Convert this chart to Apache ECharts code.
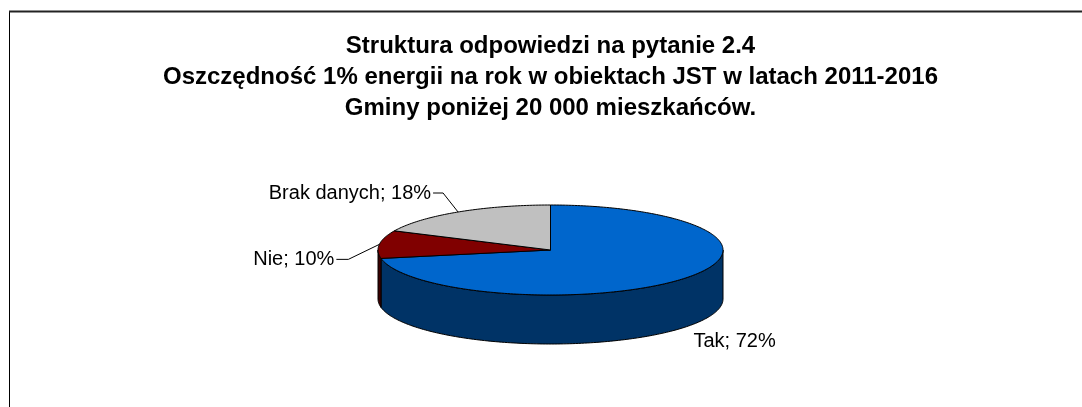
<!DOCTYPE html>
<html>
<head>
<meta charset="utf-8">
<script src="https://cdn.jsdelivr.net/npm/echarts@6/dist/echarts.min.js"></script>
<style>
html,body{margin:0;padding:0;background:#fff;}
#chart{width:1082px;height:407px;}
</style>
</head>
<body>
<div id="chart"></div>
<script>
// ---- data ----
const titleLines = [
  'Struktura odpowiedzi na pytanie 2.4',
  'Oszczędność 1% energii na rok w obiektach JST w latach 2011-2016',
  'Gminy poniżej 20 000 mieszkańców.'
];
const categories = ['Tak', 'Nie', 'Brak danych'];
const values = [72, 10, 18];

// ---- styles / layout ----
const topColors = ['#0066CC', '#800000', '#C0C0C0'];
const sideColors = ['#003366', '#3a0000', '#808080'];
const CX = 550.5, CY = 250, RX = 172.5, RY = 45, DEPTH = 49;
const FONT = '"Liberation Sans", Arial, sans-serif';
// label placement relative to slice mid-point anchor
const labelLayout = [
  {leader: false, onBottom: true, dx: 10, dy: 14, align: 'left'},
  {leader: true, elbow: [-31, 15], tail: -12, align: 'right'},
  {leader: true, elbow: [-15, -19], tail: -10, align: 'right'}
];

const total = values.reduce((a, b) => a + b, 0);
const starts = [];
let acc = 0;
values.forEach(v => { starts.push(acc / total * 360); acc += v; });

function pt(deg, dy) {
  const r = deg * Math.PI / 180;
  return [CX + RX * Math.sin(r), CY - RY * Math.cos(r) + (dy || 0)];
}
function arc(a0, a1, dy) {
  const pts = [];
  const n = Math.max(2, Math.ceil(Math.abs(a1 - a0) / 1));
  for (let k = 0; k <= n; k++) pts.push(pt(a0 + (a1 - a0) * k / n, dy));
  return pts;
}

const data = categories.map((c, i) => ({name: c, value: values[i]}));

function renderSide(params, api) {
  const i = params.dataIndex;
  const a0 = starts[i], a1 = starts[i] + api.value(0) / total * 360;
  const lo = Math.max(a0, 90), hi = Math.min(a1, 270);
  if (lo >= hi) return null;
  const pts = arc(lo, hi, 0).concat(arc(hi, lo, DEPTH));
  return {
    type: 'polygon',
    shape: {points: pts},
    style: {fill: sideColors[i], stroke: '#000', lineWidth: 1}
  };
}

function renderTop(params, api) {
  const i = params.dataIndex;
  const v = api.value(0);
  const a0 = starts[i], a1 = starts[i] + v / total * 360;
  const pts = [[CX, CY]].concat(arc(a0, a1, 0));
  const mid = (a0 + a1) / 2;
  const L = labelLayout[i];
  const children = [{
    type: 'polygon',
    shape: {points: pts},
    style: {fill: topColors[i], stroke: '#000', lineWidth: 1}
  }];
  const anchor = pt(mid, L.onBottom ? DEPTH : 0);
  let tx, ty;
  if (L.leader) {
    const elbow = [anchor[0] + L.elbow[0], anchor[1] + L.elbow[1]];
    const end = [elbow[0] + L.tail, elbow[1]];
    children.push({
      type: 'polyline',
      shape: {points: [anchor, elbow, end]},
      style: {stroke: '#000', fill: null, lineWidth: 1}
    });
    tx = end[0] - 2; ty = end[1];
  } else {
    tx = anchor[0] + L.dx; ty = anchor[1] + L.dy;
  }
  children.push({
    type: 'text',
    style: {
      text: categories[i] + '; ' + v + '%',
      x: tx, y: ty,
      fill: '#000',
      fontSize: 20,
      fontFamily: FONT,
      align: L.align,
      verticalAlign: 'middle'
    }
  });
  return {type: 'group', children: children};
}

const chart = echarts.init(document.getElementById('chart'), null, {renderer: 'canvas'});
chart.setOption({
  backgroundColor: '#fff',
  animation: false,
  graphic: [
    {type: 'line', shape: {x1: 9.5, y1: 11, x2: 9.5, y2: 407}, style: {stroke: '#000', lineWidth: 1}},
    {type: 'line', shape: {x1: 9, y1: 11.5, x2: 1082, y2: 11.5}, style: {stroke: '#222', lineWidth: 2}},
    {
      type: 'text',
      x: 550.5, y: 31,
      style: {
        text: titleLines.join('\n'),
        align: 'center',
        verticalAlign: 'top',
        fontFamily: FONT,
        fontSize: 24,
        fontWeight: 'bold',
        fill: '#000',
        lineHeight: 31
      }
    }
  ],
  series: [
    {type: 'custom', coordinateSystem: 'none', z: 1, data: data, renderItem: renderSide, silent: true},
    {type: 'custom', coordinateSystem: 'none', z: 2, data: data, renderItem: renderTop, silent: true}
  ]
});
</script>
</body>
</html>
